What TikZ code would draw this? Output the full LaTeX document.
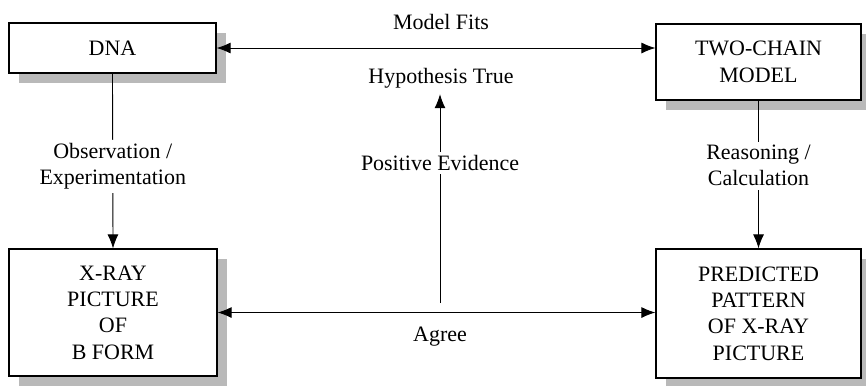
\documentclass[tikz,border=0pt]{standalone}
\usepackage{fontspec}
\setmainfont{Liberation Serif}
\usetikzlibrary{arrows.meta}
\usetikzlibrary{calc}
\usetikzlibrary{shadows}

\tikzset{
	stagebox/.style={draw, line width=0.7pt, fill=white, align=center,
		inner sep=0pt,
		drop shadow={shadow xshift=0.2cm, shadow yshift=-0.2cm, fill=gray!55, opacity=1}},
	link/.style={line width=0.5pt, >={Latex[length=2.8mm, width=2.2mm]}},
	linklabel/.style={fill=white, align=center, inner sep=2pt}
}

\begin{document}
\begin{tikzpicture}[font=\fontsize{12.5}{15}\selectfont]
	\useasboundingbox (0,0) rectangle (17.32,-7.7);

	% the four stages
	\node[stagebox, minimum width=4.14cm, minimum height=1.0cm] (dna) at (2.25,-0.96) {DNA};
	\node[stagebox, minimum width=4.1cm, minimum height=1.52cm] (model) at (15.17,-1.24) {TWO-CHAIN\\MODEL};
	\node[stagebox, minimum width=4.16cm, minimum height=2.54cm] (xray) at (2.26,-6.25) {X-RAY\\PICTURE\\OF\\B FORM};
	\node[stagebox, minimum width=4.1cm, minimum height=2.58cm] (pred) at (15.17,-6.27) {PREDICTED\\PATTERN\\OF X-RAY\\PICTURE};

	% labels in the middle column
	\node (fits) at (8.82,-0.44) {Model Fits};
	\node (hyp) at (8.82,-1.56) {Hypothesis True};
	\node (agree) at (8.8,-6.74) {Agree};
	\coordinate (evbase) at (8.8,-6.06);

	% links between the stages
	\draw[link, <->] (dna.east) -- (dna.east -| model.west);
	\draw[link, <->] (xray.east) -- (xray.east -| pred.west);
	\draw[link, ->] (dna.south) -- node[linklabel, pos=0.53] {Observation /\\Experimentation} (xray.north);
	\draw[link, ->] (model.south) -- node[linklabel, pos=0.44] {Reasoning /\\Calculation} (pred.north);
	\draw[link, ->] (evbase) -- node[linklabel, pos=0.67] {Positive Evidence} (evbase |- hyp.south);
\end{tikzpicture}
\end{document}
